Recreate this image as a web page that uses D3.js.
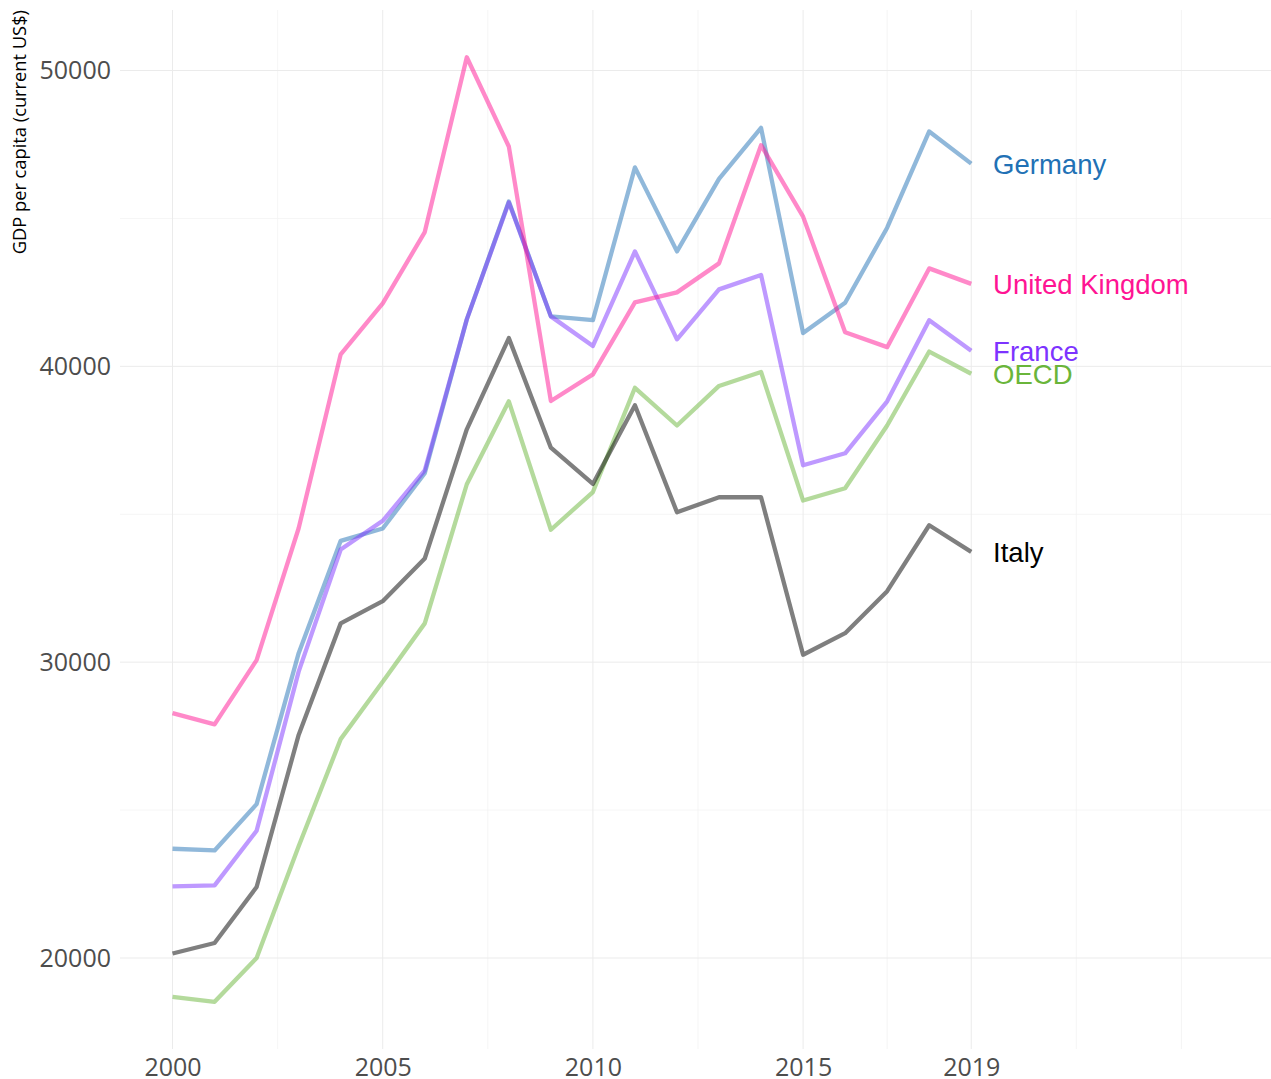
<!DOCTYPE html>
<html>
<head>
<meta charset="utf-8">
<script src="https://cdn.jsdelivr.net/npm/d3@7"></script>
<style>
  html, body { margin: 0; padding: 0; background: #ffffff; }
  svg { display: block; }
</style>
</head>
<body>
<svg id="chart" width="1271" height="1079"></svg>
<script>
// ---- data ----
const years = [2000,2001,2002,2003,2004,2005,2006,2007,2008,2009,2010,2011,2012,2013,2014,2015,2016,2017,2018,2019];
const seriesNames = ["France", "Germany", "Italy", "OECD", "United Kingdom"];
const france  = [22422,22456,24301,29679,33807,34777,36486,41588,45541,41689,40689,43885,40912,42601,43088,36655,37061,38818,41561,40524];
const germany = [23693,23635,25203,30304,34101,34517,36385,41588,45574,41689,41561,46726,43885,46338,48061,41125,42149,44686,47939,46851];
const italy   = [20152,20507,22399,27541,31311,32061,33503,37872,40956,37250,36024,38686,35068,35574,35574,30250,30980,32399,34628,33726];
const oecd    = [18682,18520,20000,23774,27399,29341,31311,36014,38818,34476,35750,39274,38000,39338,39811,35463,35878,38000,40500,39750];
const uk      = [28277,27895,30068,34527,40405,42128,44537,50449,47432,38828,39726,42162,42500,43480,47476,45061,41149,40649,43311,42787];
const xTickValues = [2000, 2005, 2010, 2015, 2019];
const xMinorValues = [2002.5, 2007.5, 2012.5, 2017, 2021.5, 2024];
const yTickValues = [20000, 30000, 40000, 50000];
const yMinorValues = [25000, 35000, 45000];
const yTitle = "GDP per capita (current US$)";

const lineColors = { "France": "#7d33ff", "Germany": "#2171b5", "Italy": "#000000", "OECD": "#6ab53a", "United Kingdom": "#ff1493" };
const valuesByName = { "France": france, "Germany": germany, "Italy": italy, "OECD": oecd, "United Kingdom": uk };

// ---- layout ----
const W = 1271, H = 1079;
const plot = { left: 120, right: 1276, top: 10, bottom: 1049 };

const svg = d3.select("#chart");

const x = d3.scaleLinear().domain([1998.75, 2026.25]).range([plot.left, plot.right]);

const allVals = seriesNames.flatMap(n => valuesByName[n]);
const [vmin, vmax] = d3.extent(allVals);
const pad = (vmax - vmin) * 0.05;
const y = d3.scaleLinear().domain([vmin - pad, vmax + pad]).range([plot.bottom, plot.top]);

// ---- grid ----
const grid = svg.append("g");
grid.selectAll("line.ymin").data(yMinorValues).join("line")
  .attr("x1", plot.left).attr("x2", W)
  .attr("y1", d => y(d)).attr("y2", d => y(d))
  .attr("stroke", "#f1f1f1").attr("stroke-width", 0.7);
grid.selectAll("line.xmin").data(xMinorValues).join("line")
  .attr("x1", d => x(d)).attr("x2", d => x(d))
  .attr("y1", plot.top).attr("y2", plot.bottom)
  .attr("stroke", "#f1f1f1").attr("stroke-width", 0.7);
grid.selectAll("line.ymaj").data(yTickValues).join("line")
  .attr("x1", plot.left).attr("x2", W)
  .attr("y1", d => y(d)).attr("y2", d => y(d))
  .attr("stroke", "#ebebeb").attr("stroke-width", 1);
grid.selectAll("line.xmaj").data(xTickValues).join("line")
  .attr("x1", d => x(d)).attr("x2", d => x(d))
  .attr("y1", plot.top).attr("y2", plot.bottom)
  .attr("stroke", "#ebebeb").attr("stroke-width", 1);

// ---- axes (text only) ----
const xAxis = d3.axisBottom(x).tickValues(xTickValues).tickFormat(d3.format("d")).tickSize(0).tickPadding(0);
const gx = svg.append("g").attr("transform", `translate(0,${plot.bottom})`).call(xAxis);
gx.select(".domain").remove();
gx.selectAll("text")
  .attr("y", 27).attr("dy", 0)
  .attr("font-family", "'Open Sans', 'Noto Sans', sans-serif")
  .attr("font-size", 25).attr("fill", "#4d4d4d");

const yAxis = d3.axisLeft(y).tickValues(yTickValues).tickFormat(d3.format("d")).tickSize(0).tickPadding(0);
const gy = svg.append("g").attr("transform", `translate(${plot.left},0)`).call(yAxis);
gy.select(".domain").remove();
gy.selectAll("text")
  .attr("x", -9).attr("dy", "0.33em")
  .attr("font-family", "'Open Sans', 'Noto Sans', sans-serif")
  .attr("font-size", 25).attr("fill", "#4d4d4d");

svg.append("text")
  .attr("transform", `translate(26,${plot.top}) rotate(-90)`)
  .attr("text-anchor", "end")
  .attr("font-family", "'Open Sans', 'Noto Sans', sans-serif")
  .attr("font-size", 18.3).attr("fill", "#000000")
  .text(yTitle);

// ---- lines ----
const line = d3.line().x((d, i) => x(years[i])).y(d => y(d));
const order = ["Germany", "France", "OECD", "Italy", "United Kingdom"];
svg.append("g").selectAll("path").data(order).join("path")
  .attr("d", n => line(valuesByName[n]))
  .attr("fill", "none")
  .attr("stroke", n => lineColors[n])
  .attr("stroke-opacity", 0.5)
  .attr("stroke-width", 4.3)
  .attr("stroke-linejoin", "round");

// ---- end labels ----
const lastYear = years[years.length - 1];
svg.append("g").selectAll("text").data(seriesNames).join("text")
  .attr("x", x(lastYear + 0.52))
  .attr("y", n => y(valuesByName[n][valuesByName[n].length - 1]))
  .attr("dy", "0.38em")
  .attr("font-family", "'Liberation Sans', Arial, sans-serif")
  .attr("font-size", 27.5)
  .attr("fill", n => lineColors[n])
  .text(n => n);
</script>
</body>
</html>
